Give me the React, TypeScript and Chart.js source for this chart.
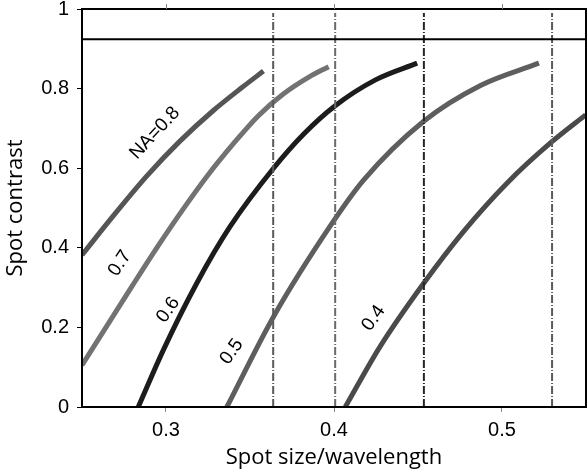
import React, { useEffect, useRef } from "react";
import { Chart, registerables } from "chart.js";

Chart.register(...registerables);

// ---- data ----
const na08X = [0.25, 0.2686, 0.2885, 0.3083, 0.3282, 0.345, 0.358];
const na08Y = [0.382, 0.480, 0.580, 0.668, 0.745, 0.802, 0.844];

const na07X = [0.25, 0.265, 0.28, 0.295, 0.31, 0.325, 0.34, 0.355, 0.37, 0.385, 0.3968];
const na07Y = [0.105, 0.205, 0.305, 0.403, 0.496, 0.583, 0.661, 0.732, 0.787, 0.829, 0.855];

const na06X = [0.2835, 0.2984, 0.3183, 0.3381, 0.364, 0.382, 0.4007, 0.4247, 0.4495];
const na06Y = [0.0, 0.143, 0.311, 0.453, 0.600, 0.686, 0.757, 0.822, 0.864];

const na05X = [0.3362, 0.364, 0.3978, 0.4176, 0.4534, 0.4872, 0.522];
const na05Y = [0.0, 0.227, 0.455, 0.570, 0.718, 0.808, 0.864];

const na04X = [0.4067, 0.4276, 0.4534, 0.4773, 0.5031, 0.529, 0.5498];
const na04Y = [0.0, 0.153, 0.311, 0.442, 0.563, 0.664, 0.734];

const cutoffLines = [0.3638, 0.4007, 0.4535, 0.5298];
const cutoffColors = ["#5a5a5a", "#6a6a6a", "#262626", "#5a5a5a"];
const ceilingValue = 0.924;

const curveLabels = ["NA=0.8", "0.7", "0.6", "0.5", "0.4"];
const curveLabelX = [0.2934, 0.2725, 0.3013, 0.3391, 0.4236];
const curveLabelY = [0.688, 0.361, 0.244, 0.139, 0.223];
const curveLabelAngle = [-47, -57, -55, -55, -55];

const xTicks = [0.3, 0.4, 0.5];
const xTickLabels = ["0.3", "0.4", "0.5"];
const yTicks = [0, 0.2, 0.4, 0.6, 0.8, 1];
const yTickLabels = ["0", "0.2", "0.4", "0.6", "0.8", "1"];

const xTitle = "Spot size/wavelength";
const yTitle = "Spot contrast";

const pts = (xs: number[], ys: number[]) => xs.map((x, i) => ({ x, y: ys[i] }));

export default function App() {
  const ref = useRef<HTMLCanvasElement | null>(null);

  useEffect(() => {
    if (!ref.current) return;

    const curve = (xs: number[], ys: number[], color: string) => ({
      data: pts(xs, ys),
      borderColor: color,
      borderWidth: 5,
      pointRadius: 0,
      cubicInterpolationMode: "monotone" as const,
      fill: false,
      borderCapStyle: "butt" as const,
      order: 5,
    });

    const datasets: any[] = [
      curve(na08X, na08Y, "#555555"),
      curve(na07X, na07Y, "#727272"),
      curve(na06X, na06Y, "#1c1c1c"),
      curve(na05X, na05Y, "#5e5e5e"),
      curve(na04X, na04Y, "#4a4a4a"),
      ...cutoffLines.map((v, i) => ({
        data: [
          { x: v, y: 0 },
          { x: v, y: 0.99 },
        ],
        borderColor: cutoffColors[i],
        borderWidth: 2,
        borderDash: [8, 2, 1, 2],
        pointRadius: 0,
        order: 1,
      })),
      {
        data: [
          { x: 0.25, y: ceilingValue },
          { x: 0.55, y: ceilingValue },
        ],
        borderColor: "#000000",
        borderWidth: 2,
        pointRadius: 0,
        order: 0,
      },
    ];

    const decor = {
      id: "decor",
      afterDatasetsDraw(chart: any) {
        const { ctx, chartArea, scales } = chart;
        const xs = scales.x;
        const ys = scales.y;
        ctx.save();
        ctx.fillStyle = "#000";
        ctx.font = "19px 'Liberation Sans', Arial, sans-serif";
        ctx.textAlign = "center";
        ctx.textBaseline = "middle";
        curveLabels.forEach((t, i) => {
          const px = xs.getPixelForValue(curveLabelX[i]);
          const py = ys.getPixelForValue(curveLabelY[i]);
          ctx.save();
          ctx.translate(px, py);
          ctx.rotate((curveLabelAngle[i] * Math.PI) / 180);
          ctx.fillText(t, 0, 0);
          ctx.restore();
        });
        ctx.strokeStyle = "#000";
        ctx.lineWidth = 2;
        ctx.strokeRect(
          chartArea.left,
          chartArea.top,
          chartArea.right - chartArea.left,
          chartArea.bottom - chartArea.top
        );
        ctx.strokeStyle = "#888";
        ctx.lineWidth = 1;
        xTicks.forEach((v) => {
          const px = Math.round(xs.getPixelForValue(v)) + 0.5;
          ctx.beginPath();
          ctx.moveTo(px, chartArea.top - 5);
          ctx.lineTo(px, chartArea.top);
          ctx.stroke();
        });
        ctx.restore();
      },
    };

    const chart = new Chart(ref.current, {
      type: "line",
      data: { datasets },
      options: {
        animation: false,
        responsive: false,
        layout: { padding: { top: 9, right: 1, left: 0, bottom: 0 } },
        plugins: { legend: { display: false }, tooltip: { enabled: false } },
        scales: {
          x: {
            type: "linear",
            min: 0.25,
            max: 0.55,
            afterBuildTicks: (s: any) => {
              s.ticks = xTicks.map((v) => ({ value: v }));
            },
            afterFit: (s: any) => {
              s.height = 66;
              s.paddingLeft = 0;
              s.paddingRight = 0;
            },
            ticks: {
              callback: (_v: any, i: number) => xTickLabels[i],
              color: "#000",
              font: { family: "'Liberation Sans', Arial", size: 20 },
              padding: 6,
              maxRotation: 0,
            },
            grid: {
              drawOnChartArea: false,
              drawTicks: true,
              tickLength: 5,
              color: "#888",
            },
            border: { display: false },
            title: {
              display: true,
              text: xTitle,
              color: "#000",
              font: { family: "'Open Sans'", size: 22 },
              padding: { top: 0, bottom: 2 },
            },
          },
          y: {
            type: "linear",
            min: 0,
            max: 1,
            afterBuildTicks: (s: any) => {
              s.ticks = yTicks.map((v) => ({ value: v }));
            },
            afterFit: (s: any) => {
              s.width = 82;
              s.paddingTop = 0;
              s.paddingBottom = 0;
            },
            ticks: {
              callback: (_v: any, i: number) => yTickLabels[i],
              color: "#000",
              font: { family: "'Liberation Sans', Arial", size: 20 },
              padding: 8,
            },
            grid: {
              drawOnChartArea: false,
              drawTicks: true,
              tickLength: 5,
              color: "#000",
            },
            border: { display: false },
            title: {
              display: true,
              text: yTitle,
              color: "#000",
              font: { family: "'Open Sans'", size: 22 },
              padding: { top: 3, bottom: 0 },
            },
          },
        },
      },
      plugins: [decor],
    });

    return () => chart.destroy();
  }, []);

  return (
    <div style={{ position: "fixed", left: 0, top: 0, width: 587, height: 473, background: "#fff" }}>
      <canvas ref={ref} width={587} height={473} />
    </div>
  );
}
